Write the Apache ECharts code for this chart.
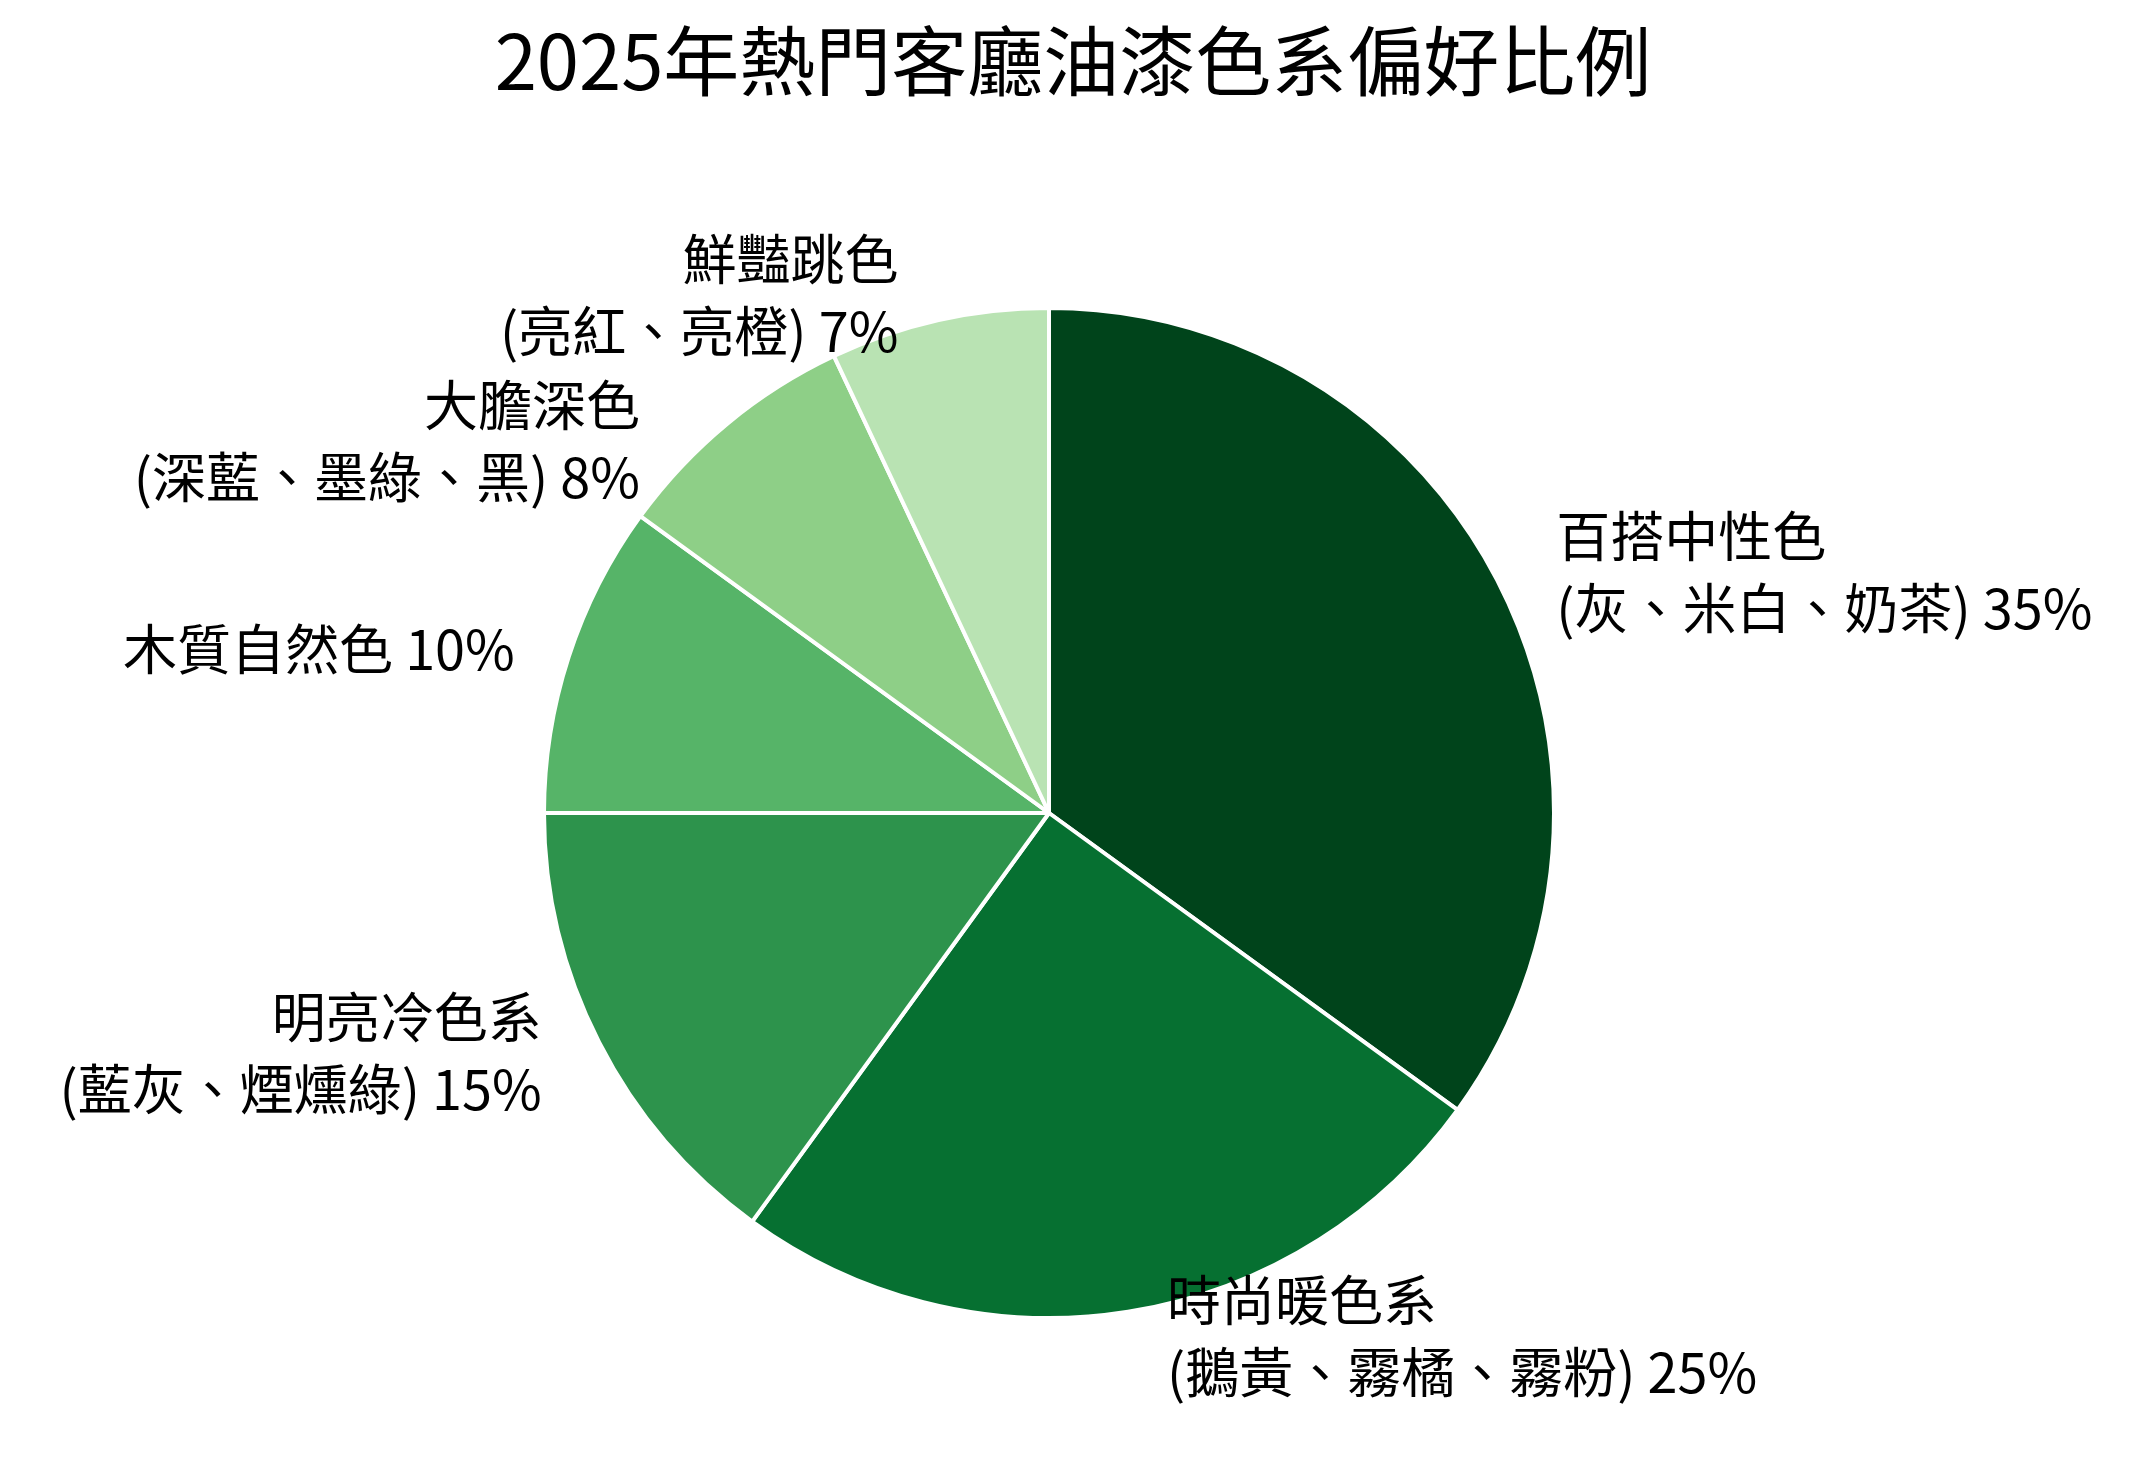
<!DOCTYPE html>
<html><head><meta charset="utf-8">
<script src="https://cdn.jsdelivr.net/npm/echarts@6/dist/echarts.min.js"></script>
<style>html,body{margin:0;background:#fff}#c{width:2146px;height:1468px}</style>
</head><body><div id="c"></div>
<script>
const categories = ["百搭中性色\n(灰、米白、奶茶)","時尚暖色系\n(鵝黃、霧橘、霧粉)","明亮冷色系\n(藍灰、煙燻綠)","木質自然色","大膽深色\n(深藍、墨綠、黑)","鮮豔跳色\n(亮紅、亮橙)"];
const values = [35,25,15,10,8,7];
const colors = ["#00441b","#067031","#2d934c","#56b468","#8ecf87","#b9e3b3"];
const chart = echarts.init(document.getElementById('c'));
const font = '"Noto Sans CJK TC","Noto Sans",sans-serif';
chart.setOption({
  backgroundColor:'#fff',
  title:{text:'2025年熱門客廳油漆色系偏好比例',left:'center',top:18,textStyle:{fontFamily:font,fontSize:76,fontWeight:'normal',color:'#000'}},
  series:[{
    type:'pie',center:[1049,813],radius:[0,505],startAngle:90,clockwise:true,
    data:categories.map((n,i)=>({name:n,value:values[i],itemStyle:{color:colors[i]}})),
    itemStyle:{borderColor:'#fff',borderWidth:4},
    label:{show:true,position:'outside',formatter:'{b} {c}%',fontFamily:font,fontSize:54,lineHeight:72,color:'#000'},
    labelLine:{show:false,length:25,length2:30},
    emphasis:{disabled:true},animation:false
  }]
});
</script></body></html>
